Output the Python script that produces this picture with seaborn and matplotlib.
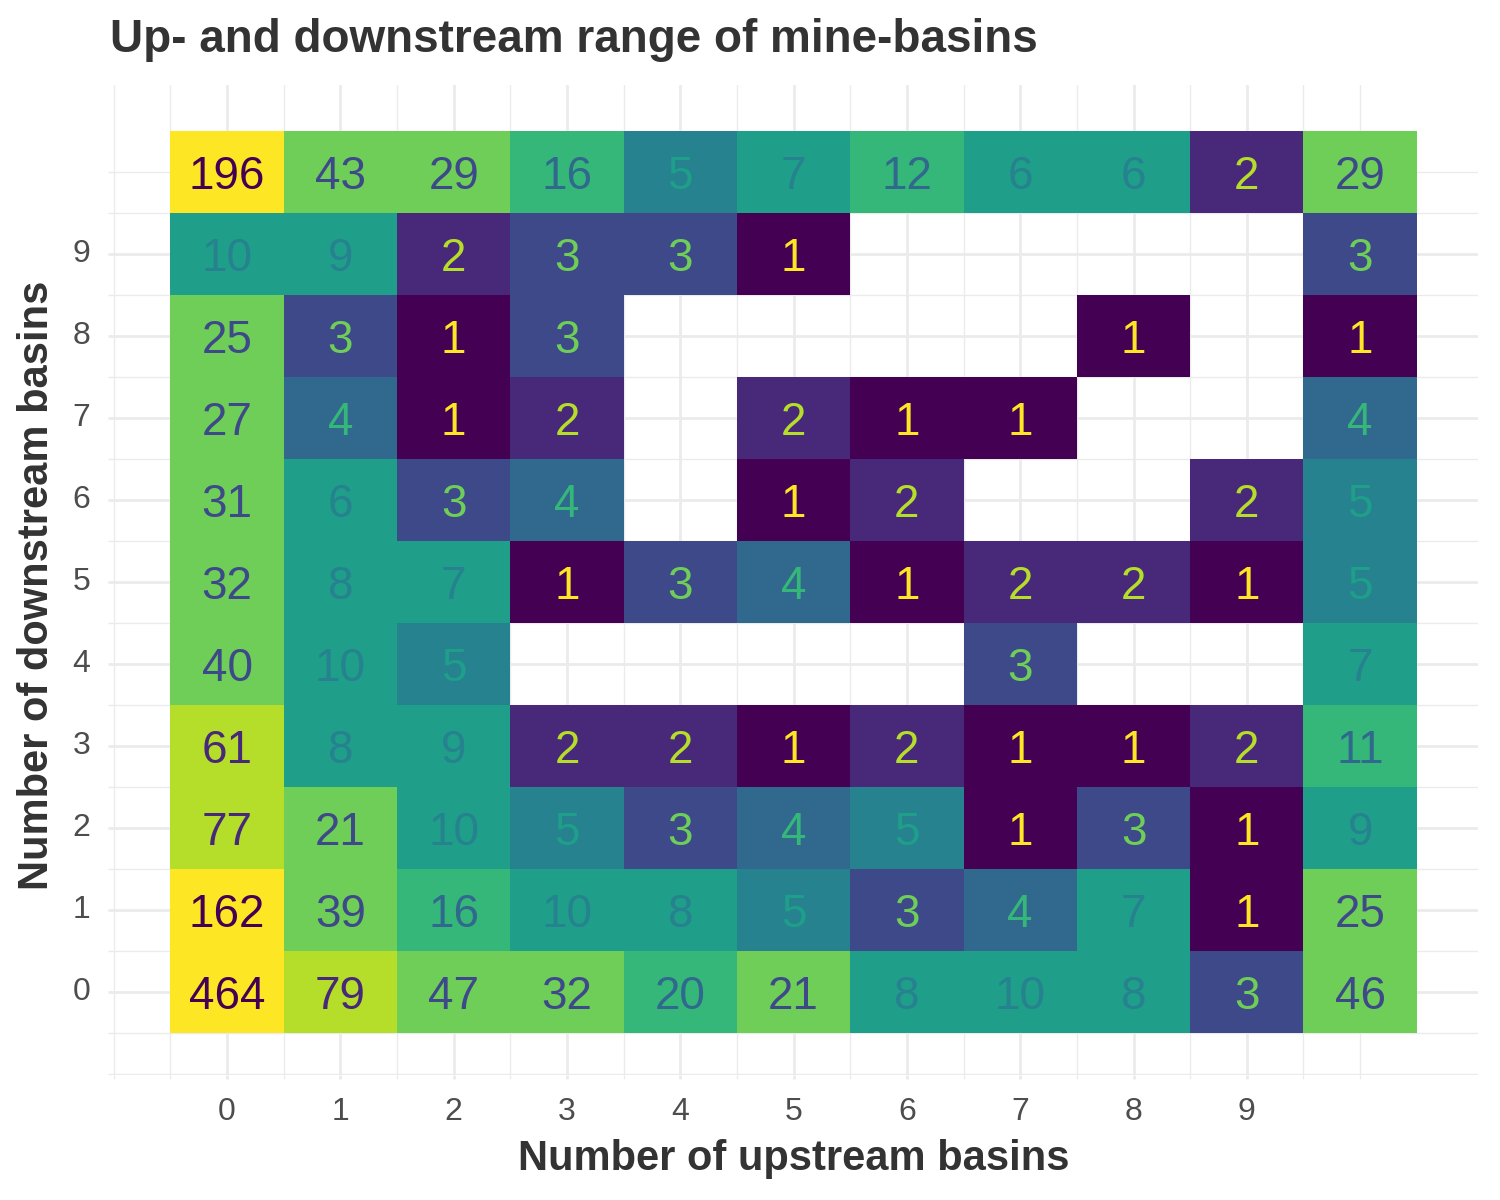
import matplotlib
matplotlib.use("Agg")
import matplotlib.pyplot as plt
import seaborn as sns
import numpy as np
import pandas as pd
from matplotlib.colors import ListedColormap, BoundaryNorm

sns.set_theme(style="white")
plt.rcParams['font.family'] = ['Liberation Sans', 'DejaVu Sans']

# --- data: rows = downstream count (10 is the unlabeled top row), cols = upstream count
upstream = list(range(11))
downstream = list(range(11))
nan = np.nan
counts = {
    10: [196, 43, 29, 16, 5, 7, 12, 6, 6, 2, 29],
    9:  [10, 9, 2, 3, 3, 1, nan, nan, nan, nan, 3],
    8:  [25, 3, 1, 3, nan, nan, nan, nan, 1, nan, 1],
    7:  [27, 4, 1, 2, nan, 2, 1, 1, nan, nan, 4],
    6:  [31, 6, 3, 4, nan, 1, 2, nan, nan, 2, 5],
    5:  [32, 8, 7, 1, 3, 4, 1, 2, 2, 1, 5],
    4:  [40, 10, 5, nan, nan, nan, nan, 3, nan, nan, 7],
    3:  [61, 8, 9, 2, 2, 1, 2, 1, 1, 2, 11],
    2:  [77, 21, 10, 5, 3, 4, 5, 1, 3, 1, 9],
    1:  [162, 39, 16, 10, 8, 5, 3, 4, 7, 1, 25],
    0:  [464, 79, 47, 32, 20, 21, 8, 10, 8, 3, 46],
}
tick_labels = [str(i) for i in range(10)]
bins = [0.5, 1.5, 2.5, 3.5, 4.5, 5.5, 10.5, 20.5, 55, 120, 1000]

df = pd.DataFrame([counts[d] for d in downstream[::-1]],
                  index=downstream[::-1], columns=upstream)

pal = plt.get_cmap('viridis')(np.linspace(0, 1, 10))
cmap = ListedColormap(pal)
norm = BoundaryNorm(bins, 10)

fig = plt.figure(figsize=(7.5, 6), dpi=200)
ax = fig.add_axes([112 / 1500, 1 - 1075 / 1200, 1366 / 1500, 990 / 1200])

grid_c = '#ebebeb'
ax.set_axisbelow(True)

sns.heatmap(df, ax=ax, cmap=cmap, norm=norm, cbar=False, annot=True, fmt='.0f',
            annot_kws={'fontsize': 16.5}, linewidths=0, square=False)

# recolor annotations with the reversed palette bin
for t in ax.texts:
    v = float(t.get_text())
    idx = int(norm(v))
    t.set_color(pal[9 - idx])
    t.set_va('center_baseline')

# axis limits in heatmap coordinates (cell c centered at c + 0.5)
ax.set_xlim(-1.015 + 0.5, 11.04 + 0.5)
nrow = len(downstream)
ax.set_ylim(nrow - 0.5 + 1.01, nrow - 0.5 - 11.06)

# major ticks at 0..9, minor grid at halves plus -1 and 10
maj = np.arange(10)
mins = np.concatenate([[-1], np.arange(-0.5, 10, 1.0), [10]])
ax.set_xticks(maj + 0.5)
ax.set_xticklabels(tick_labels, rotation=0)
ax.set_xticks(mins + 0.5, minor=True)
ax.set_yticks(nrow - 0.5 - maj)
ax.set_yticklabels(tick_labels, rotation=0)
ax.set_yticks(nrow - 0.5 - mins, minor=True)

ax.grid(True, which='major', color=grid_c, linewidth=1.0)
ax.grid(True, which='minor', color=grid_c, linewidth=0.5)
ax.tick_params(axis='both', which='major', length=1.4, width=1.0, color=grid_c,
               labelsize=11.5, labelcolor='#4d4d4d', pad=6.5)
ax.tick_params(axis='both', which='minor', length=1.4, width=0.5, color=grid_c)
ax.tick_params(axis='x', bottom=True, which='both')
ax.tick_params(axis='y', left=True, which='both')
for s in ax.spines.values():
    s.set_visible(False)
ax.set_xlabel('')
ax.set_ylabel('')

fig.text(110 / 1500, 1 - 52 / 1200, 'Up- and downstream range of mine-basins',
         fontsize=16.5, fontweight='bold', color='#333333', ha='left', va='baseline')
fig.text(794 / 1500, 1 - 1170 / 1200, 'Number of upstream basins',
         fontsize=15, fontweight='bold', color='#333333', ha='center', va='baseline')
fig.text(37 / 1500, 1 - 585 / 1200, 'Number of downstream basins',
         fontsize=15, fontweight='bold', color='#333333', ha='center', va='center',
         rotation=90)

fig.savefig('out.png', dpi=200, facecolor='white')
